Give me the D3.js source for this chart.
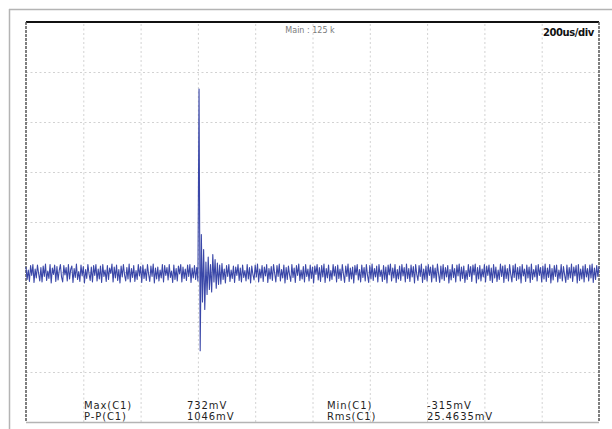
<!DOCTYPE html>
<html>
<head>
<meta charset="utf-8">
<script src="https://cdn.jsdelivr.net/npm/d3@7"></script>
<style>
  html, body { margin: 0; padding: 0; background: #fff; }
  svg { display: block; }
</style>
</head>
<body>
<script>
// Channel C1 capture: 4 us per sample, 0 .. 2000 us, values in mV
const sampleStepUs = 4;
const traceMv = [
  // 0 .. 148
  20,-30,8,-38,26,-14,30,-42,12,-24,28,-6,-36,18,-40,24,-18,32,-34,4,
  -26,30,-44,16,-10,28,-38,22,-32,6,30,-20,-40,26,-12,18,-36,30,-28,10,
  24,-42,14,-22,32,-30,2,-38,28,-16,22,-44,10,-26,30,-8,-34,20,-40,26,
  -14,30,-36,12,-28,24,-42,30,-18,8,-38,26,-30,16,-6,32,-40,20,-24,28,
  -34,10,-44,24,-20,30,-12,-36,18,-28,32,-40,14,-22,26,-38,6,-30,30,-16,
  22,-42,28,-26,12,-34,30,-10,-38,24,-18,32,-44,16,-28,20,-36,8,-24,30,
  -40,26,-14,18,-32,30,-22,4,-42,28,-30,14,-36,24,-8,30,-40,20,-26,12,
  -34,28,-18,30,-42,16,-24,26,-30,
  // 149 .. 170 : transient and ringing
  18,-36,732,-315,150,-120,90,-150,40,-90,60,-70,30,-80,70,-40,50,-65,36,-50,28,-48,
  // 171 .. 500
  34,-30,12,-44,26,-18,30,-38,8,-26,24,-42,20,-14,30,-34,16,-40,28,-22,
  6,-36,30,-28,18,-44,24,-10,-32,28,-20,32,-40,12,-24,26,-38,20,-16,30,
  -42,14,-28,22,-34,30,-6,-40,26,-18,32,-36,10,-24,28,-44,18,-30,24,-12,
  -38,30,-22,16,-42,26,-14,32,-34,8,-28,22,-40,30,-18,12,-36,28,-26,20,
  -44,24,-10,30,-32,18,-38,26,-20,32,-42,14,-24,28,-36,6,-30,30,-16,22,
  -40,28,-26,12,-34,30,-8,-42,24,-18,32,-38,16,-28,20,-44,26,-12,30,-32,
  10,-40,28,-22,18,-36,30,-14,-42,26,-28,32,-34,14,-20,24,-40,30,-18,8,
  -38,26,-30,20,-44,28,-12,32,-36,16,-24,30,-42,10,-28,24,-34,30,-16,18,
  -40,32,-26,14,-38,28,-20,22,-44,30,-10,-34,26,-18,32,-42,12,-30,24,-36,
  30,-14,20,-40,28,-24,16,-38,32,-8,-42,24,-28,30,-34,18,-20,26,-44,10,
  -32,30,-22,14,-40,28,-16,32,-36,20,-26,24,-42,6,-30,30,-18,22,-38,28,
  -12,32,-44,18,-28,26,-36,12,-20,30,-40,24,-14,28,-34,16,-42,30,-24,20,
  -38,8,-30,32,-18,24,-42,28,-26,14,-36,30,-10,-40,26,-22,32,-34,18,-28,
  22,-44,30,-16,12,-38,28,-24,20,-42,32,-30,10,-20,26,-36,30,-14,18,-40,
  24,-28,32,-38,16,-22,30,-44,14,-32,26,-18,28,-40,8,-26,30,-36,22,-12,
  -42,28,-30,18,-24,32,-38,20,-16,26,-44,30,-34,12,-28,24,-40,30,-20,14,
  -36,28,-24,32,-42,16,-30,26,-18,22
];

// Grid divisions: 200 us/div horizontally, 200 mV/div vertically
const timeTicksUs = [0,200,400,600,800,1000,1200,1400,1600,1800,2000];
const voltTicksMv = [-600,-400,-200,0,200,400,600,800,1000];

// Header texts
const headerCenter = "Main : 125 k";
const timebaseLabel = "200us/div";

// Measurement readout
const measNamesLeft = ["Max(C1)", "P-P(C1)"];
const measValuesLeft = ["732mV", "1046mV"];
const measNamesRight = ["Min(C1)", "Rms(C1)"];
const measValuesRight = ["-315mV", "25.4635mV"];

const W = 612, H = 429;
const plot = { left: 26, right: 599, top: 22, bottom: 422 };

const svg = d3.select("body").append("svg")
  .attr("width", W).attr("height", H);

svg.append("rect").attr("width", W).attr("height", H).attr("fill", "#fff");

// Outer frame
svg.append("line").attr("x1", 9).attr("x2", W).attr("y1", 9.5).attr("y2", 9.5)
  .attr("stroke", "#b4b4b4").attr("stroke-width", 1.5);
svg.append("line").attr("x1", 9.5).attr("x2", 9.5).attr("y1", 9).attr("y2", H)
  .attr("stroke", "#b4b4b4").attr("stroke-width", 1.5);

const x = d3.scaleLinear().domain([0, 2000]).range([plot.left, plot.right]);
const y = d3.scaleLinear().domain([-600, 1000]).range([plot.bottom, plot.top]);

// Dotted grid through the axis generators
const gridX = svg.append("g")
  .attr("transform", `translate(0,${plot.bottom})`)
  .call(d3.axisBottom(x).tickValues(timeTicksUs.slice(1, -1))
    .tickSize(-(plot.bottom - plot.top)).tickFormat(""));
const gridY = svg.append("g")
  .attr("transform", `translate(${plot.left},0)`)
  .call(d3.axisLeft(y).tickValues(voltTicksMv.slice(1, -1))
    .tickSize(-(plot.right - plot.left)).tickFormat(""));
[gridX, gridY].forEach(g => {
  g.select(".domain").remove();
  g.selectAll(".tick line")
    .attr("stroke", "#d2d2d2")
    .attr("stroke-width", 1)
    .attr("stroke-dasharray", "2,2.5");
});

// Plot borders
svg.append("line").attr("x1", plot.left).attr("x2", plot.right)
  .attr("y1", plot.top).attr("y2", plot.top)
  .attr("stroke", "#111").attr("stroke-width", 2);
[plot.left, plot.right].forEach(px => {
  svg.append("line").attr("x1", px).attr("x2", px)
    .attr("y1", plot.top).attr("y2", plot.bottom)
    .attr("stroke", "#555").attr("stroke-width", 1.5)
    .attr("stroke-dasharray", "3,1");
});
svg.append("line").attr("x1", plot.left).attr("x2", plot.right)
  .attr("y1", plot.bottom + 0.5).attr("y2", plot.bottom + 0.5)
  .attr("stroke", "#b4b4b4").attr("stroke-width", 1.5);

// Waveform
const line = d3.line()
  .x((d, i) => x(i * sampleStepUs))
  .y(d => y(d));
svg.append("path")
  .datum(traceMv)
  .attr("d", line)
  .attr("fill", "none")
  .attr("stroke", "#3a47a8")
  .attr("stroke-width", 1.1)
  .attr("stroke-linejoin", "round");

// Header
svg.append("text")
  .attr("x", 310).attr("y", 32.5)
  .attr("text-anchor", "middle")
  .attr("font-family", "DejaVu Sans")
  .attr("font-size", 8)
  .attr("fill", "#7a7a7a")
  .text(headerCenter);
svg.append("text")
  .attr("x", 594).attr("y", 36)
  .attr("text-anchor", "end")
  .attr("font-family", "DejaVu Sans")
  .attr("font-weight", "bold")
  .attr("font-size", 10)
  .attr("letter-spacing", -0.4)
  .attr("fill", "#111")
  .text(timebaseLabel);

// Measurements
const measFont = g => g
  .attr("font-family", "DejaVu Sans")
  .attr("font-size", 10)
  .attr("letter-spacing", 0.9)
  .attr("fill", "#1f1f1f");
const rows = [408.5, 419.5];
const cols = [
  { x: 84, items: measNamesLeft },
  { x: 187, items: measValuesLeft },
  { x: 327, items: measNamesRight },
  { x: 427, items: measValuesRight }
];
cols.forEach(c => {
  c.items.forEach((t, i) => {
    svg.append("text").call(measFont)
      .attr("x", c.x).attr("y", rows[i])
      .text(t);
  });
});
</script>
</body>
</html>
